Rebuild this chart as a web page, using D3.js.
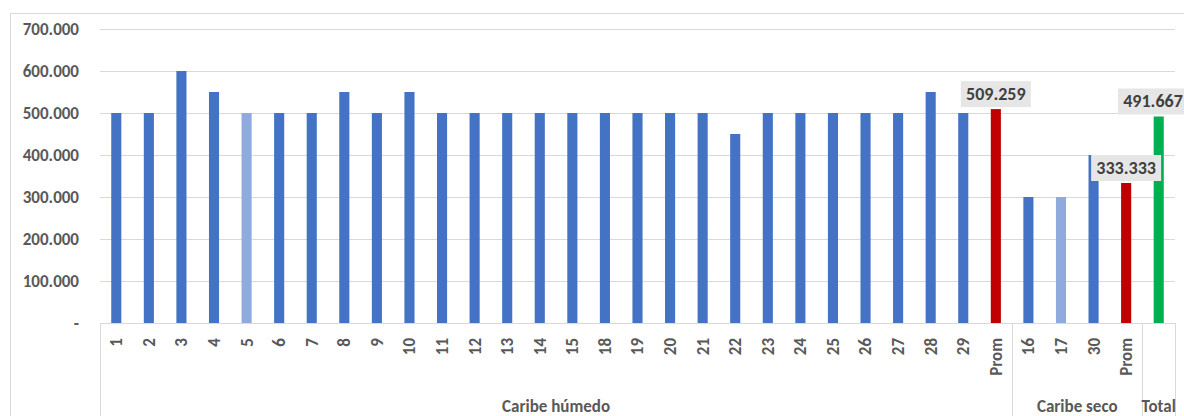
<!DOCTYPE html>
<html>
<head>
<meta charset="utf-8">
<script src="https://cdn.jsdelivr.net/npm/d3@7"></script>
<style>
  html, body { margin: 0; padding: 0; background: #fff; }
  svg { display: block; font-family: Carlito, Calibri, Lato, "Open Sans", sans-serif; }
</style>
</head>
<body>
<svg id="chart" width="1184" height="416"></svg>
<script>
// ---- data ----
const categories = ["1","2","3","4","5","6","7","8","9","10","11","12","13","14","15","18","19","20","21","22","23","24","25","26","27","28","29","Prom",
                    "16","17","30","Prom",
                    ""];
const values = [500000,500000,600000,550000,500000,500000,500000,550000,500000,550000,500000,500000,500000,500000,500000,500000,500000,500000,500000,450000,500000,500000,500000,500000,500000,550000,500000,509259,
                300000,300000,400000,333333,
                491667];
const groupNames = ["Caribe húmedo","Caribe seco","Total"];
const groupSizes = [28, 4, 1];
const barKinds = ["b","b","b","b","l","b","b","b","b","b","b","b","b","b","b","b","b","b","b","b","b","b","b","b","b","b","b","avg",
                  "b","l","b","avg",
                  "tot"];
const labeledKinds = ["avg","tot"];
const yTicks = [0,100000,200000,300000,400000,500000,600000,700000];

// ---- styles ----
const colorOf = {b:"#4472C4", l:"#8FAADC", avg:"#C00000", tot:"#00B050"};
const gridColor = "#D9D9D9";
const textColor = "#595959";
const FONT = "Carlito, Calibri, Lato, sans-serif";

const svg = d3.select("#chart");
const W = 1184;
const mLeft = 100, mRight = 1175, mTop = 29, mBottom = 323;

const x = d3.scaleBand().domain(d3.range(categories.length)).range([mLeft, mRight])
  .paddingInner(0.69).paddingOuter(0.345);
const y = d3.scaleLinear().domain([0, 700000]).range([mBottom, mTop]);
const fmt = v => v === 0 ? "-" : d3.format(",.0f")(v).replace(/,/g, ".");
const fmtLabel = v => (v/1000).toFixed(3);

// outer border
svg.append("rect").attr("x", 10.5).attr("y", 13.5).attr("width", 1200).attr("height", 450)
  .attr("fill", "none").attr("stroke", gridColor);

// gridlines
svg.append("g").selectAll("line").data(yTicks.filter(d => d > 0)).join("line")
  .attr("x1", mLeft).attr("x2", mRight)
  .attr("y1", d => Math.round(y(d)) + 0.5).attr("y2", d => Math.round(y(d)) + 0.5)
  .attr("stroke", gridColor).attr("stroke-width", 1);

// y axis
const yAxis = d3.axisLeft(y).tickValues(yTicks).tickFormat(fmt).tickSize(0).tickPadding(0);
const yg = svg.append("g").attr("transform", `translate(${mLeft - 21},0)`).call(yAxis);
yg.select(".domain").remove();
yg.selectAll("text").attr("fill", textColor).attr("font-size", "17px").attr("font-weight", "bold")
  .attr("font-family", FONT);

// bars
svg.append("g").selectAll("rect").data(values).join("rect")
  .attr("x", (d, i) => x(i))
  .attr("width", x.bandwidth())
  .attr("y", d => y(d))
  .attr("height", d => mBottom - y(d))
  .attr("fill", (d, i) => colorOf[barKinds[i]]);

// x axis line
svg.append("line").attr("x1", mLeft).attr("x2", mRight).attr("y1", mBottom + 0.5).attr("y2", mBottom + 0.5)
  .attr("stroke", gridColor);

// group separators
const bounds = [0];
groupSizes.forEach((s, i) => bounds.push(bounds[i] + s));
const step = x.step();
const bx = k => mLeft + k * step;
svg.append("g").selectAll("line").data(bounds).join("line")
  .attr("x1", d => Math.round(bx(d)) + 0.5).attr("x2", d => Math.round(bx(d)) + 0.5)
  .attr("y1", mBottom).attr("y2", 416)
  .attr("stroke", gridColor);

// category tick labels (rotated)
const xAxis = d3.axisBottom(x).tickFormat(i => categories[i]).tickSize(0).tickPadding(0);
const xg = svg.append("g").attr("transform", `translate(0,${mBottom})`).call(xAxis);
xg.select(".domain").remove();
xg.selectAll("text")
  .attr("transform", "rotate(-90)")
  .attr("x", -15).attr("y", 0).attr("dy", "0.35em")
  .attr("text-anchor", "end")
  .attr("fill", textColor).attr("font-size", "17px").attr("font-weight", "bold")
  .attr("font-family", FONT);

// group labels
svg.append("g").selectAll("text").data(groupNames).join("text")
  .attr("x", (d, i) => (bx(bounds[i]) + bx(bounds[i + 1])) / 2)
  .attr("y", 412)
  .attr("text-anchor", "middle")
  .attr("fill", textColor).attr("font-size", "17px").attr("font-weight", "bold")
  .text(d => d);

// data labels (kept inside the picture horizontally, like the original)
const labIdx = d3.range(values.length).filter(i => labeledKinds.includes(barKinds[i]));
const labCx = i => Math.min(x(i) + x.bandwidth() / 2, W - 31);
const lg = svg.append("g").selectAll("g").data(labIdx).join("g")
  .attr("transform", i => `translate(${labCx(i)},${y(values[i]) - 2})`);
lg.append("rect").attr("x", -35).attr("y", -26).attr("width", 70).attr("height", 26).attr("fill", "#E7E6E6");
lg.append("text").attr("x", 0).attr("y", -7).attr("text-anchor", "middle")
  .attr("fill", "#404040").attr("font-size", "18px").attr("font-weight", "bold")
  .text(i => fmtLabel(values[i]));
</script>
</body>
</html>
